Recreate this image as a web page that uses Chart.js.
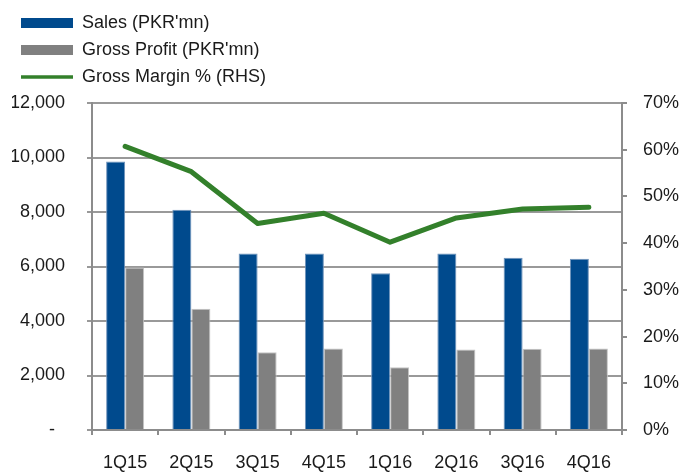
<!doctype html>
<html>
<head>
  <meta charset="utf-8">
  <script src="https://cdn.jsdelivr.net/npm/chart.js@4.4.1/dist/chart.umd.min.js"></script>
  <style>
    body { margin: 0; background: #fff; }
    #wrap { width: 683px; height: 472px; }
  </style>
  <title>Sales and Gross Margin</title>
</head>
<body>
  <div id="wrap"><canvas id="chart"></canvas></div>

  <script>
    const quarters = ['1Q15', '2Q15', '3Q15', '4Q15', '1Q16', '2Q16', '3Q16', '4Q16']
    const sales = [9850, 8080, 6480, 6480, 5750, 6480, 6320, 6280]
    const grossProfit = [5960, 4450, 2850, 2990, 2300, 2950, 2980, 2990]
    const grossMargin = [60.7, 55.3, 44.2, 46.4, 40.2, 45.4, 47.3, 47.7]

    const BLUE = '#004A8D'
    const GREY = '#808080'
    const GREEN = '#33802B'
    const AXIS = '#8c8c8c'

    Chart.defaults.font.family = "'Liberation Sans', Arial, sans-serif"
    Chart.defaults.font.size = 18
    Chart.defaults.color = '#1a1a1a'

    // legend stacks its items one per row, like the original
    const LEGEND_W = 320
    const stackLegend = {
      id: 'stackLegend',
      afterInit(chart) {
        const legend = chart.legend
        const fit = legend.fit
        const draw = legend.draw
        legend.fit = function () {
          this.maxWidth = LEGEND_W
          fit.call(this)
          this.height += 7
        }
        legend.draw = function () {
          const right = this.right
          this.right = this.left + LEGEND_W
          draw.call(this)
          this.right = right
        }
      }
    }

    const legendLabels = chart => chart.data.datasets.map((ds, i) => ({
      text: ds.label,
      fillStyle: ds.backgroundColor,
      strokeStyle: ds.type === 'line' ? ds.borderColor : ds.backgroundColor,
      lineWidth: ds.type === 'line' ? 3.5 : 0,
      pointStyle: ds.type === 'line' ? 'line' : 'rect',
      fontColor: '#1a1a1a',
      hidden: false,
      datasetIndex: i
    }))

    new Chart(document.getElementById('chart'), {
      type: 'bar',
      data: {
        labels: quarters,
        datasets: [
          {
            label: "Sales (PKR'mn)",
            data: sales,
            backgroundColor: BLUE,
            borderColor: '#6f93bb',
            borderWidth: 1,
            yAxisID: 'y',
            order: 1
          },
          {
            label: "Gross Profit (PKR'mn)",
            data: grossProfit,
            backgroundColor: GREY,
            borderColor: '#c4c4c4',
            borderWidth: 1,
            yAxisID: 'y',
            order: 1
          },
          {
            type: 'line',
            label: 'Gross Margin % (RHS)',
            data: grossMargin,
            borderColor: GREEN,
            backgroundColor: GREEN,
            borderWidth: 5,
            borderCapStyle: 'round',
            borderJoinStyle: 'round',
            pointRadius: 0,
            tension: 0,
            yAxisID: 'y1',
            order: 0
          }
        ]
      },
      options: {
        responsive: true,
        maintainAspectRatio: false,
        animation: false,
        layout: { padding: { left: 12, right: 4, top: 5, bottom: 0 } },
        datasets: {
          bar: { categoryPercentage: 0.574, barPercentage: 1 }
        },
        plugins: {
          tooltip: { enabled: false },
          legend: {
            position: 'top',
            align: 'start',
            labels: {
              usePointStyle: true,
              pointStyleWidth: 52,
              boxHeight: 10,
              padding: 9,
              generateLabels: legendLabels
            }
          }
        },
        scales: {
          x: {
            grid: { offset: true, drawOnChartArea: false, drawTicks: true, tickLength: 5, color: AXIS, lineWidth: 2 },
            border: { color: AXIS, width: 2 },
            ticks: { padding: 19, font: { lineHeight: 1 } },
            afterFit: scale => { scale.height = 42 }
          },
          y: {
            position: 'left',
            min: 0,
            max: 12000,
            ticks: {
              stepSize: 2000,
              padding: 22,
              callback: v => v === 0 ? '-  ' : v.toLocaleString('en-US')
            },
            grid: { color: '#999', lineWidth: 2, tickLength: 5 },
            border: { color: AXIS, width: 2 },
            afterFit: scale => { scale.width = 80 }
          },
          y1: {
            position: 'right',
            min: 0,
            max: 70,
            ticks: {
              stepSize: 10,
              padding: 16,
              callback: v => v + '%'
            },
            grid: { drawOnChartArea: false, tickLength: 5, color: AXIS, lineWidth: 2 },
            border: { color: AXIS, width: 2 },
            afterFit: scale => { scale.width = 57 }
          }
        }
      },
      plugins: [stackLegend]
    })
  </script>
</body>
</html>
